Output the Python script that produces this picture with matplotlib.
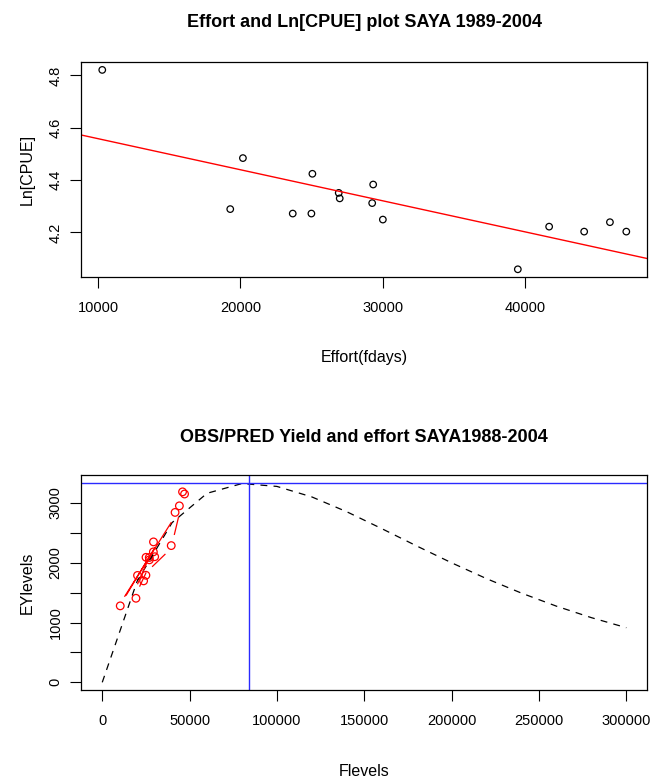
import matplotlib
matplotlib.use('Agg')
import matplotlib.pyplot as plt
import numpy as np

plt.rcParams['font.family'] = ['Liberation Sans', 'DejaVu Sans']

# effort (fishing days) and log catch per unit effort, SAYA 1989-2004
effort = [10300, 19290, 20180, 23680, 24990, 25060, 26910, 26980,
          29260, 29330, 30010, 39490, 41690, 44150, 45960, 47110]
ln_cpue = [4.821, 4.289, 4.484, 4.272, 4.272, 4.424, 4.351, 4.330,
           4.312, 4.383, 4.249, 4.059, 4.222, 4.203, 4.239, 4.203]

# fitted regression line Ln[CPUE] = a + b * effort
fit_a = 4.677
fit_b = -1.1875e-5

# observed yield (effort * CPUE)
obs_yield = [1279, 1406, 1788, 1697, 1791, 2091, 2088, 2049,
             2182, 2349, 2101, 2287, 2842, 2952, 3186, 3150]

# predicted yield segments (NaN breaks the line)
pred_e = [12900, 39400, np.nan, 13800, 30000, np.nan, 28800, 35900, np.nan,
          41300, 43600, np.nan, 21500, 25000, np.nan, 20300, 27000]
pred_y = [1440, 2670, np.nan, 1460, 2250, np.nan, 1940, 2140, np.nan,
          2475, 2755, np.nan, 1610, 1830, np.nan, 1650, 2100]

# equilibrium yield curve
f_levels = [0, 20000, 40000, 60000, 80000, 100000, 120000, 140000,
            160000, 180000, 200000, 220000, 240000, 260000, 280000, 300000]
ey_levels = [0, 1694, 2672, 3162, 3325, 3277, 3101, 2853,
             2571, 2281, 1999, 1734, 1492, 1274, 1082, 914]

f_msy = 84200
msy = 3330

BLUE = '#2a2aff'


def r_lim(vals):
    lo, hi = np.nanmin(vals), np.nanmax(vals)
    pad = 0.04 * (hi - lo)
    return lo - pad, hi + pad


def r_style(ax):
    for s in ax.spines.values():
        s.set_linewidth(0.9)
    ax.tick_params(axis='both', length=8, width=0.8, labelsize=10.5)
    ax.tick_params(axis='x', pad=9)
    ax.tick_params(axis='y', pad=5.5, labelrotation=90)
    for lab in ax.get_yticklabels():
        lab.set_va('center')


fig = plt.figure(figsize=(6.54, 7.83), dpi=100)

# ---- top panel
ax1 = fig.add_axes([0.1243, 0.6459, 0.8654, 0.275])
ax1.scatter(effort, ln_cpue, s=22, facecolors='none', edgecolors='black', linewidths=0.9)
xl = r_lim(effort)
xx = np.array(xl)
ax1.plot(xx, fit_a + fit_b * xx, color='red', lw=1)
ax1.set_xlim(xl)
ax1.set_ylim(r_lim(ln_cpue))
ax1.set_xticks([10000, 20000, 30000, 40000])
ax1.set_yticks([4.2, 4.4, 4.6, 4.8])
ax1.set_yticklabels(['4.2', '4.4', '4.6', '4.8'])
r_style(ax1)
ax1.set_title('Effort and Ln[CPUE] plot SAYA 1989-2004', fontsize=13, fontweight='bold', pad=25)
ax1.set_xlabel('Effort(fdays)', fontsize=11.5)
ax1.set_ylabel('Ln[CPUE]', fontsize=11.5)
ax1.xaxis.set_label_coords(0.5, -0.338)
ax1.yaxis.set_label_coords(-0.083, 0.5)

# ---- bottom panel
ax2 = fig.add_axes([0.1243, 0.1184, 0.8654, 0.2746])
ax2.plot(f_levels, ey_levels, color='black', lw=0.9, linestyle=(0, (5.5, 5)))
ax2.scatter(effort, obs_yield, s=30, facecolors='none', edgecolors='red', linewidths=0.9)
ax2.plot(pred_e, pred_y, color='red', lw=0.9)
ax2.axvline(f_msy, color=BLUE, lw=1)
ax2.axhline(msy, color=BLUE, lw=1)
ax2.set_xlim(r_lim(f_levels))
ax2.set_ylim(r_lim(ey_levels + [msy]))
ax2.set_xticks([0, 50000, 100000, 150000, 200000, 250000, 300000])
ax2.set_yticks([0, 500, 1000, 1500, 2000, 2500, 3000])
ax2.set_yticklabels(['0', '', '1000', '', '2000', '', '3000'])
r_style(ax2)
ax2.set_title('OBS/PRED Yield and effort SAYA1988-2004', fontsize=13, fontweight='bold', pad=24)
ax2.set_xlabel('Flevels', fontsize=11.5)
ax2.set_ylabel('EYlevels', fontsize=11.5)
ax2.xaxis.set_label_coords(0.5, -0.343)
ax2.yaxis.set_label_coords(-0.083, 0.5)

fig.savefig('out.png', dpi=100)
